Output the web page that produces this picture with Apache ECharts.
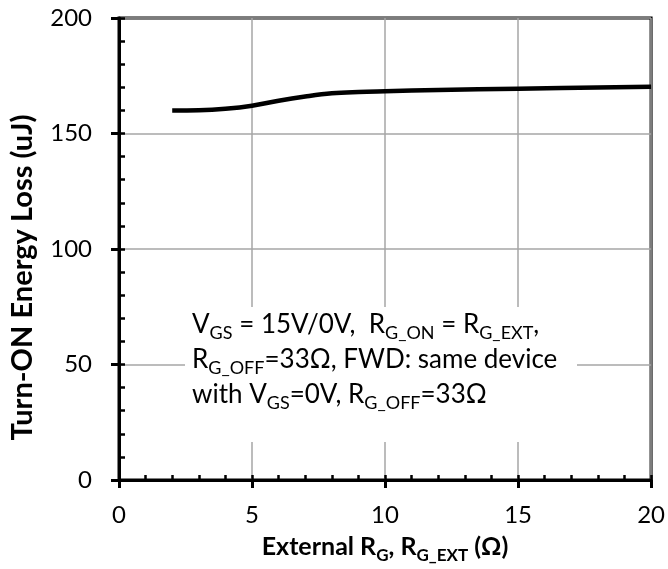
<!DOCTYPE html>
<html><head><meta charset="utf-8">
<script src="https://cdn.jsdelivr.net/npm/echarts@6/dist/echarts.min.js"></script>
<style>html,body{margin:0;padding:0;background:#fff}#c{width:668px;height:569px}</style>
</head><body><div id="c"></div>
<script>
const rgExt = [2, 3, 4, 5, 6, 7, 8, 9, 10, 12, 15, 20];
const eon = [160, 160.1, 160.7, 162, 164.2, 166, 167.4, 168, 168.3, 168.8, 169.4, 170.2];
const xTicks = [0, 5, 10, 15, 20];
const yTicks = [0, 50, 100, 150, 200];

const FONT = 'Lato';
const chart = echarts.init(document.getElementById('c'), null, {renderer: 'canvas'});
const gridPos = {left: 114.5, top: 18, right: 15.5, bottom: 86};
const subRich = {
  m: {fontFamily: FONT, fontSize: 26, color: '#000', lineHeight: 34},
  s: {fontFamily: FONT, fontSize: 18, color: '#000', verticalAlign: 'bottom', lineHeight: 14}
};
const boldRich = {
  m: {fontFamily: FONT, fontSize: 25, fontWeight: 'bold', color: '#000', lineHeight: 34},
  s: {fontFamily: FONT, fontSize: 17, fontWeight: 'bold', color: '#000', verticalAlign: 'bottom', lineHeight: 14}
};
const option = {
  animation: false,
  backgroundColor: '#fff',
  grid: Object.assign({show: true, borderColor: '#000', borderWidth: 3, backgroundColor: 'transparent'}, gridPos),
  xAxis: [{
    type: 'value', min: xTicks[0], max: xTicks[xTicks.length - 1], interval: 5,
    axisLine: {show: true, lineStyle: {color: '#000', width: 3}},
    axisTick: {show: true, inside: false, length: 8, lineStyle: {color: '#000', width: 3}},
    axisLabel: {fontFamily: FONT, fontSize: 24, color: '#000', margin: 23},
    splitLine: {show: true, lineStyle: {color: '#a6a6a6', width: 1.5}},
    name: '{m|External R}{s|G}{m|, R}{s|G_EXT}{m| (Ω)}',
    nameLocation: 'middle', nameGap: 50,
    nameTextStyle: {rich: boldRich}
  }, {
    type: 'value', min: 0, max: 20, interval: 1, position: 'bottom',
    axisLine: {show: false},
    axisTick: {show: true, inside: true, length: 5, lineStyle: {color: '#000', width: 2.5}},
    axisLabel: {show: false}, splitLine: {show: false}
  }],
  yAxis: [{
    type: 'value', min: yTicks[0], max: yTicks[yTicks.length - 1], interval: 50,
    axisLine: {show: true, lineStyle: {color: '#000', width: 3}},
    axisTick: {show: true, inside: false, length: 8, lineStyle: {color: '#000', width: 3}},
    axisLabel: {fontFamily: FONT, fontSize: 24, color: '#000', margin: 27},
    splitLine: {show: true, lineStyle: {color: '#a6a6a6', width: 1.5}},
    name: 'Turn-ON Energy Loss (uJ)',
    nameLocation: 'middle', nameGap: 82, nameRotate: 90,
    nameTextStyle: {fontFamily: FONT, fontSize: 29, fontWeight: 'bold', color: '#000', padding: [0, 57, 0, 0]}
  }, {
    type: 'value', min: 0, max: 200, interval: 10, position: 'left',
    axisLine: {show: false},
    axisTick: {show: true, inside: true, length: 6, lineStyle: {color: '#000', width: 2.5}},
    axisLabel: {show: false}, splitLine: {show: false}
  }],
  series: [{
    type: 'line', xAxisIndex: 0, yAxisIndex: 0,
    data: rgExt.map((x, i) => [x, eon[i]]),
    smooth: 0.4, showSymbol: false, symbol: 'none',
    lineStyle: {color: '#000', width: 4.5}, z: 5
  }],
  graphic: [
    {type: 'rect', shape: {x: 185, y: 307, width: 392, height: 135}, style: {fill: '#fff'}, z: 50},
    {type: 'text', x: 192, y: 325, z: 60, style: {text: '{m|V}{s|GS}{m| = 15V/0V,  R}{s|G_ON}{m| = R}{s|G_EXT}{m|,}', rich: subRich, verticalAlign: 'middle'}},
    {type: 'text', x: 192, y: 360, z: 60, style: {text: '{m|R}{s|G_OFF}{m|=33Ω, FWD: same device}', rich: subRich, verticalAlign: 'middle'}},
    {type: 'text', x: 192, y: 395, z: 60, style: {text: '{m|with V}{s|GS}{m|=0V, R}{s|G_OFF}{m|=33Ω}', rich: subRich, verticalAlign: 'middle'}}
  ]
};
chart.setOption(option);
</script></body></html>
